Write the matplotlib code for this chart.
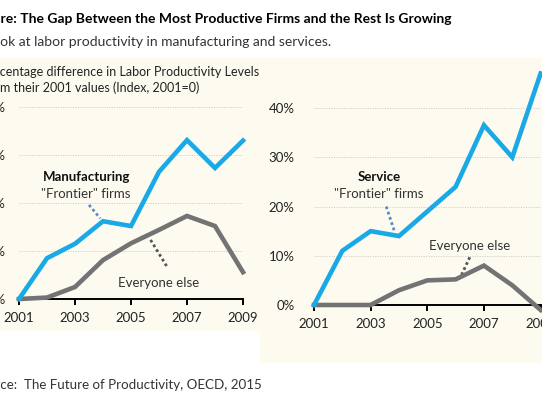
import matplotlib
matplotlib.use("Agg")
import matplotlib.pyplot as plt
from matplotlib.patches import Rectangle

plt.rcParams["font.family"] = ["Lato", "DejaVu Sans"]

years = [2001, 2002, 2003, 2004, 2005, 2006, 2007, 2008, 2009]
manuf_frontier = [0, 8.5, 11.5, 16.2, 15.2, 26.5, 33.1, 27.3, 33.0]
manuf_rest = [0, 0.3, 2.5, 8.1, 11.6, 14.4, 17.3, 15.2, 5.6]
serv_frontier = [0, 11.0, 15.0, 14.0, 19.0, 24.0, 36.5, 30.0, 47.0]
serv_rest = [0, 0, 0, 3.0, 5.0, 5.2, 8.0, 4.0, -1.0]
xticks = [2001, 2003, 2005, 2007, 2009]
yticks = [0, 10, 20, 30, 40]

BLUE = "#19a9e6"
GREY = "#737373"
BG = "#fdfaf0"
W, H = 542, 408

fig = plt.figure(figsize=(W / 100, H / 100), dpi=100)
fig.patch.set_facecolor("white")


def px_axes(x0, x1, y_top, y_bot):
    return fig.add_axes([x0 / W, 1 - y_bot / H, (x1 - x0) / W, (y_bot - y_top) / H])


# cream panels behind the charts
fig.add_artist(Rectangle((0, 1 - 330 / H), 260 / W, (330 - 58) / H,
                         transform=fig.transFigure, color=BG, zorder=0))
fig.add_artist(Rectangle((260 / W, 1 - 362 / H), (W - 260) / W, (362 - 58) / H,
                         transform=fig.transFigure, color=BG, zorder=0))

renderer = fig.canvas.get_renderer()


def cut_text(prefix, rest, y_px, **kw):
    # full sentence, shifted left so that the prefix falls outside the image
    t = fig.text(0, 0, prefix, **kw)
    wpx = t.get_window_extent(renderer).width
    t.remove()
    fig.text(-wpx / W, 1 - y_px / H, prefix + rest, va="center", ha="left", **kw)


cut_text("Figu", "re: The Gap Between the Most Productive Firms and the Rest Is Growing", 19,
         fontsize=10, fontweight="bold", color="black")
cut_text("A lo", "ok at labor productivity in manufacturing and services.", 42,
         fontsize=10, color="#333333")
cut_text("Per", "centage difference in Labor Productivity Levels", 72,
         fontsize=9, color="#222222")
cut_text("fro", "m their 2001 values (Index, 2001=0)", 88,
         fontsize=9, color="#222222")
cut_text("Sour", "ce:  The Future of Productivity, OECD, 2015", 385,
         fontsize=9.6, color="#333333")


def style(ax, ylim, pad):
    ax.set_facecolor("none")
    ax.set_xlim(2001, 2009)
    ax.set_ylim(*ylim)
    for s in ["top", "right", "left"]:
        ax.spines[s].set_visible(False)
    ax.spines["bottom"].set_position(("data", 0))
    ax.spines["bottom"].set_linewidth(1.4)
    ax.spines["bottom"].set_zorder(1)
    ax.set_xticks(xticks)
    ax.set_yticks(yticks)
    ax.set_yticklabels([f"{v}%" for v in yticks])
    ax.tick_params(axis="x", direction="out", length=4, width=1.4, labelsize=9.5,
                   pad=5, labelcolor="#222222")
    ax.tick_params(axis="y", length=0, labelsize=9.5, pad=pad, labelcolor="#222222")
    for v in yticks[1:]:
        ax.axhline(v, color="#c8c8c8", lw=0.7, ls=(0, (1, 1.5)), zorder=0)


# left panel: manufacturing
axL = px_axes(19, 243, 107 - 4 * 4.8, 299 + 2 * 4.8)
style(axL, (-2, 44), 9.5)
axL.plot(years, manuf_rest, color=GREY, lw=3.3, solid_joinstyle="miter", zorder=3, clip_on=False)
axL.plot(years, manuf_frontier, color=BLUE, lw=3.3, solid_joinstyle="miter", zorder=4, clip_on=False)
axL.text(2003.4, 25.5, "Manufacturing", ha="center", va="center", fontsize=9.5,
         fontweight="bold", color="#111111")
axL.text(2003.4, 21.8, '"Frontier" firms', ha="center", va="center", fontsize=9.5,
         color="#333333")
axL.plot([2003.5, 2003.9], [19.6, 16.8], color="#5b8cc8", lw=2, ls=(0, (1, 1)))
axL.text(2006.0, 3.3, "Everyone else", ha="center", va="center", fontsize=9.5,
         color="#333333")
axL.plot([2005.7, 2006.3], [12.3, 6.6], color="#555555", lw=2, ls=(0, (1, 1)))

# right panel: services
axR = px_axes(314, 540.6, 305 - 50 * 4.925, 305 + 2 * 4.925)
style(axR, (-2, 50), 14)
axR.plot(years, serv_rest, color=GREY, lw=3.3, solid_joinstyle="miter", zorder=3, clip_on=False)
axR.plot(years, serv_frontier, color=BLUE, lw=3.3, solid_joinstyle="miter", zorder=4, clip_on=False)
axR.text(2003.3, 26.0, "Service", ha="center", va="center", fontsize=9.5,
         fontweight="bold", color="#111111")
axR.text(2003.3, 22.6, '"Frontier" firms', ha="center", va="center", fontsize=9.5,
         color="#333333")
axR.plot([2003.55, 2003.85], [20.0, 14.8], color="#5b8cc8", lw=2, ls=(0, (1, 1)))
axR.text(2006.5, 12.0, "Everyone else", ha="center", va="center", fontsize=9.5,
         color="#333333")
axR.plot([2006.5, 2006.15], [9.7, 5.4], color="#555555", lw=2, ls=(0, (1, 1)))

fig.savefig("out.png", dpi=100, facecolor=fig.get_facecolor())
